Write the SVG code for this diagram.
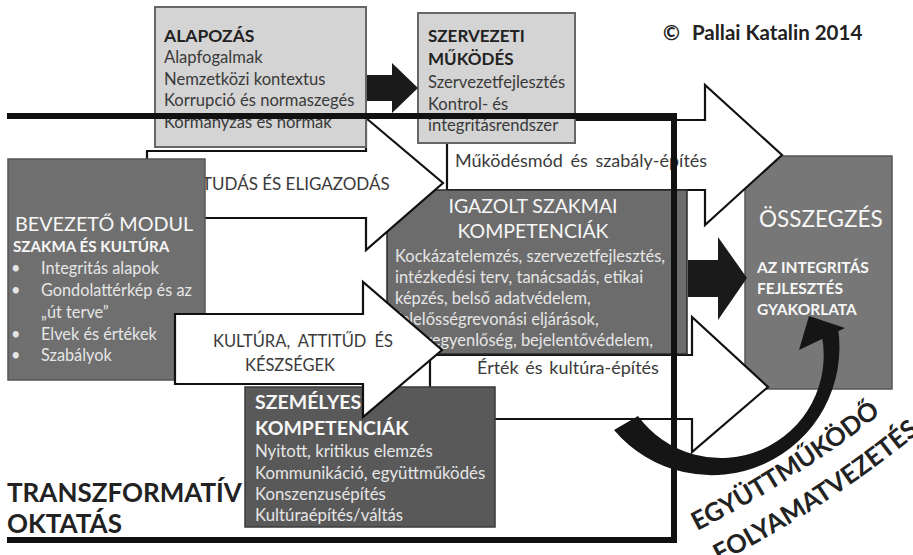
<svg xmlns="http://www.w3.org/2000/svg" width="913" height="555" viewBox="0 0 913 555">
<style>
text{font-family:Lato,'Liberation Sans',sans-serif}
.lbox{fill:#d4d4d4;stroke:#666;stroke-width:2}
.warrow{fill:#fff;stroke:#111;stroke-width:2.2;stroke-linejoin:miter}
.barrow{fill:#1a1a1a}
.tdark{fill:#222}
.tbody{fill:#3a3a3a}
.twhite{fill:#f7f7f7}
.tlight{fill:#e6e6e6}
.b{font-weight:bold}
</style>
<defs>
<path id="curve1" d="M697,531 Q799,479.6 888,408 L930,374"/>
<path id="curve2" d="M719,563 Q821,511.3 910,440 L964,397"/>
</defs>
<rect width="913" height="555" fill="#fff"/>

<g id="osszegzes">
<rect x="745" y="156" width="147" height="233" fill="#777" stroke="#555" stroke-width="1.5"/>
<text x="759" y="227" class="twhite" font-size="22.5">ÖSSZEGZÉS</text>
<text class="twhite b" font-size="15.5"><tspan x="757" y="273">AZ INTEGRITÁS</tspan><tspan x="757" y="294">FEJLESZTÉS</tspan><tspan x="757" y="315">GYAKORLATA</tspan></text>
</g>

<g id="ertek-arrow">
<polygon class="warrow" points="430,355 692,355 692,317 768,387 692,452 692,419 430,419"/>
<text x="477" y="374" class="tbody" font-size="18" word-spacing="2">Érték és kultúra-építés</text>
</g>

<g id="mukodesmod-arrow">
<polygon class="warrow" points="447,120 705,120 705,85 782,155 705,225 705,190 447,190"/>
<text x="455" y="167" class="tbody" font-size="18" word-spacing="3">Működésmód és szabály-építés</text>
</g>

<g id="igazolt">
<rect x="387" y="190" width="300" height="164" fill="#6c6c6c" stroke="#2a2a2a" stroke-width="1.5"/>
<text class="twhite" font-size="19.5" text-anchor="middle"><tspan x="533" y="213">IGAZOLT SZAKMAI</tspan><tspan x="533" y="238">KOMPETENCIÁK</tspan></text>
<text class="tlight" font-size="16.5"><tspan x="395" y="262">Kockázatelemzés, szervezetfejlesztés,</tspan><tspan x="395" y="283">intézkedési terv,  tanácsadás, etikai</tspan><tspan x="395" y="304">képzés,  belső adatvédelem,</tspan><tspan x="395" y="325">felelősségrevonási eljárások,</tspan><tspan x="395" y="346">esélyegyenlőség, bejelentővédelem,</tspan></text>
</g>

<g id="tudas-arrow">
<polygon class="warrow" points="147,151 366,151 366,118 443,183 366,250 366,218 147,218"/>
<text x="202" y="190" class="tbody" font-size="17">TUDÁS ÉS ELIGAZODÁS</text>
</g>

<g id="alapozas">
<rect class="lbox" x="155" y="7" width="211" height="140"/>
<text x="164" y="42" class="tdark b" font-size="17.5">ALAPOZÁS</text>
<text class="tbody" font-size="16.6"><tspan x="164" y="63">Alapfogalmak</tspan><tspan x="164" y="85">Nemzetközi kontextus</tspan><tspan x="164" y="106">Korrupció és normaszegés</tspan><tspan x="164" y="128">Kormányzás és normák</tspan></text>
</g>

<g id="szervezeti">
<rect class="lbox" x="418" y="13" width="157" height="130"/>
<text class="tdark b" font-size="17"><tspan x="428" y="42">SZERVEZETI</tspan><tspan x="428" y="65">MŰKÖDÉS</tspan></text>
<text class="tbody" font-size="16.6"><tspan x="428" y="88">Szervezetfejlesztés</tspan><tspan x="428" y="110">Kontrol- és</tspan><tspan x="428" y="131">integritásrendszer</tspan></text>
</g>

<g id="bevezeto">
<rect x="8" y="159" width="197" height="221" fill="#6f6f6f" stroke="#555" stroke-width="1.5"/>
<text x="15" y="231" class="twhite" font-size="19.8">BEVEZETŐ MODUL</text>
<text x="13" y="252" class="twhite b" font-size="15.2">SZAKMA ÉS KULTÚRA</text>
<text class="tlight" font-size="16.3"><tspan x="11" y="274">•</tspan><tspan x="41" y="274">Integritás alapok</tspan><tspan x="11" y="296">•</tspan><tspan x="41" y="296">Gondolattérkép és az</tspan><tspan x="41" y="318">„út terve”</tspan><tspan x="11" y="340">•</tspan><tspan x="41" y="340">Elvek és értékek</tspan><tspan x="11" y="361">•</tspan><tspan x="41" y="361">Szabályok</tspan></text>
</g>

<g id="szemelyes">
<rect x="245" y="387" width="250" height="140" fill="#595959" stroke="#3a3a3a" stroke-width="1.5"/>
<text class="twhite b" font-size="19.5"><tspan x="255" y="409">SZEMÉLYES</tspan><tspan x="255" y="435">KOMPETENCIÁK</tspan></text>
<text class="tlight" font-size="16.8"><tspan x="255" y="457">Nyitott, kritikus elemzés</tspan><tspan x="255" y="479">Kommunikáció, együttműködés</tspan><tspan x="255" y="500">Konszenzusépítés</tspan><tspan x="255" y="521">Kultúraépítés/váltás</tspan></text>
</g>

<g id="kultura-arrow">
<polygon class="warrow" points="175,314 363,314 363,282 442,350 363,417 363,384 175,384"/>
<text x="213" y="347" class="tbody" font-size="16.5" word-spacing="4">KULTÚRA, ATTITŰD ÉS</text>
<text x="290" y="371" class="tbody" font-size="16.5" text-anchor="middle">KÉSZSÉGEK</text>
</g>

<g id="frame">
<path d="M7,116 H674 V540 H7" fill="none" stroke="#111" stroke-width="6"/>
<text class="tdark b" font-size="26"><tspan x="7" y="502">TRANSZFORMATÍV</tspan><tspan x="7" y="533">OKTATÁS</tspan></text>
</g>

<g id="connectors">
<polygon class="barrow" points="367,75 392,75 392,63 418,88 392,113 392,101 367,101"/>
<polygon class="barrow" points="688,260 718,260 718,237 747,278 718,320 718,297 688,297"/>
<path fill="#151515" d="M614,430 A127.9,127.9 0 0 0 838,328 L821.9,336 A102.8,102.8 0 0 1 638,416 Z"/>
<polygon fill="#151515" points="799,350 809,316 845,328"/>
</g>

<g id="egyuttmukodo">
<text class="tdark b" font-size="25.5"><textPath href="#curve1">EGYÜTTMŰKÖDŐ</textPath></text>
<text class="tdark b" font-size="25.5"><textPath href="#curve2">FOLYAMATVEZETÉS</textPath></text>
</g>

<g id="copyright">
<text class="tdark b" font-size="20.5"><tspan x="663" y="40">©</tspan><tspan x="692" y="40">Pallai Katalin 2014</tspan></text>
</g>
</svg>
